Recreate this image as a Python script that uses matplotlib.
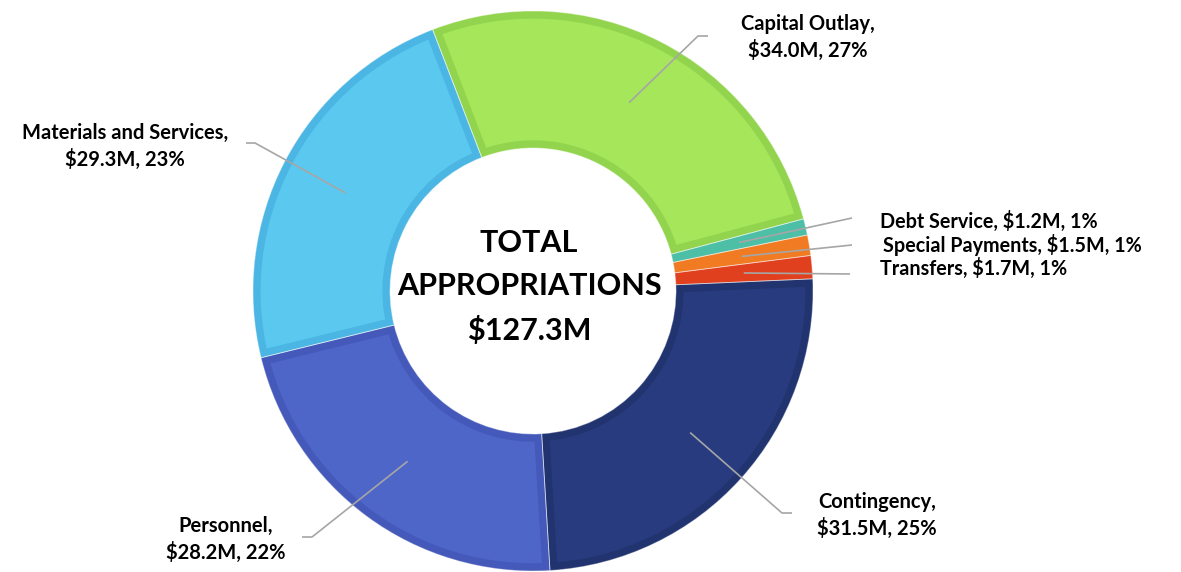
import matplotlib.pyplot as plt
import numpy as np

plt.rcParams['font.family'] = ['Lato', 'DejaVu Sans']

# figure size in pixels; layout below is given in pixel coords (y from top)
W, H = 1181, 572

categories = ["Capital Outlay", "Debt Service", "Special Payments", "Transfers",
              "Contingency", "Personnel", "Materials and Services"]
amounts = [34.0, 1.2, 1.5, 1.7, 31.5, 28.2, 29.3]
percents = [27, 1, 1, 1, 25, 22, 23]
total_amount = 127.3

fills = ["#A5E65A", "#4DBFA6", "#F07B22", "#E0401E", "#283B7E", "#4E66C8", "#5BC9EF"]
borders = ["#92D44E", "#4DBFA6", "#F07B22", "#E0401E", "#22346F", "#4459B9", "#4BB6E3"]

# donut geometry
cx, cy = 533, 291
r_out, ring = 280, 137

# label layout: (elbow, line end, text position, alignment, one-line label?)
label_layout = [
    ((698, 36), (708, 36), (808, 37), "center", False),
    (None, (852, 218), (880, 228), "left", True),
    (None, (852, 245), (883, 252), "left", True),
    (None, (850, 274), (880, 275), "left", True),
    ((782, 513), (792, 513), (877, 515), "center", False),
    ((312, 537), (302, 537), (226, 539), "center", False),
    ((255, 143), (246, 143), (125, 146), "center", False),
]

fig = plt.figure(figsize=(W / 100, H / 100), dpi=100)
ax = fig.add_axes([0, 0, 1, 1])

wedges, _ = ax.pie(amounts, radius=r_out, center=(cx, H - cy), startangle=111,
                   counterclock=False, colors=fills,
                   wedgeprops=dict(width=ring, linewidth=0))

# darker inner band along each wedge edge (stroke clipped to the wedge itself)
for w, bc in zip(wedges, borders):
    w.set_edgecolor(bc)
    w.set_linewidth(11)
    w.set_clip_path(w)
    w.set_clip_on(True)

# faint light seams between segments
ax.pie(amounts, radius=r_out, center=(cx, H - cy), startangle=111,
       counterclock=False, colors=["none"] * len(amounts),
       wedgeprops=dict(width=ring, linewidth=0.6, edgecolor=(1, 1, 1, 0.5), fill=False))

line_color = "#A6A6A6"
r_mid = r_out - ring / 2
for w, name, amt, pct, (elbow, end, txt, ha, one_line) in zip(
        wedges, categories, amounts, percents, label_layout):
    theta = np.deg2rad((w.theta1 + w.theta2) / 2)
    x0 = cx + r_mid * np.cos(theta)
    y0 = (H - cy) + r_mid * np.sin(theta)
    pts = [(x0, y0)]
    if elbow is not None:
        pts.append((elbow[0], H - elbow[1]))
    pts.append((end[0], H - end[1]))
    xs, ys = zip(*pts)
    ax.plot(xs, ys, color=line_color, lw=1.2, solid_capstyle="butt")

    if one_line:
        ax.text(txt[0], H - txt[1], f"{name}, ${amt:.1f}M, {pct}%", ha=ha,
                va="baseline", fontsize=14.2, fontweight="bold", color="black")
    else:
        ax.text(txt[0], H - txt[1], f"{name},\n${amt:.1f}M, {pct}%", ha=ha,
                va="center", fontsize=14.5, fontweight="bold", color="black",
                linespacing=1.35, multialignment="center")

# centre caption
ax.text(529, H - 287, f"TOTAL\nAPPROPRIATIONS\n${total_amount:.1f}M", ha="center",
        va="center", fontsize=22, fontweight="bold", color="black",
        linespacing=1.65)

ax.set_xlim(0, W)
ax.set_ylim(0, H)
ax.set_aspect("equal")
ax.axis("off")

fig.savefig("out.png", dpi=100, facecolor="white")
